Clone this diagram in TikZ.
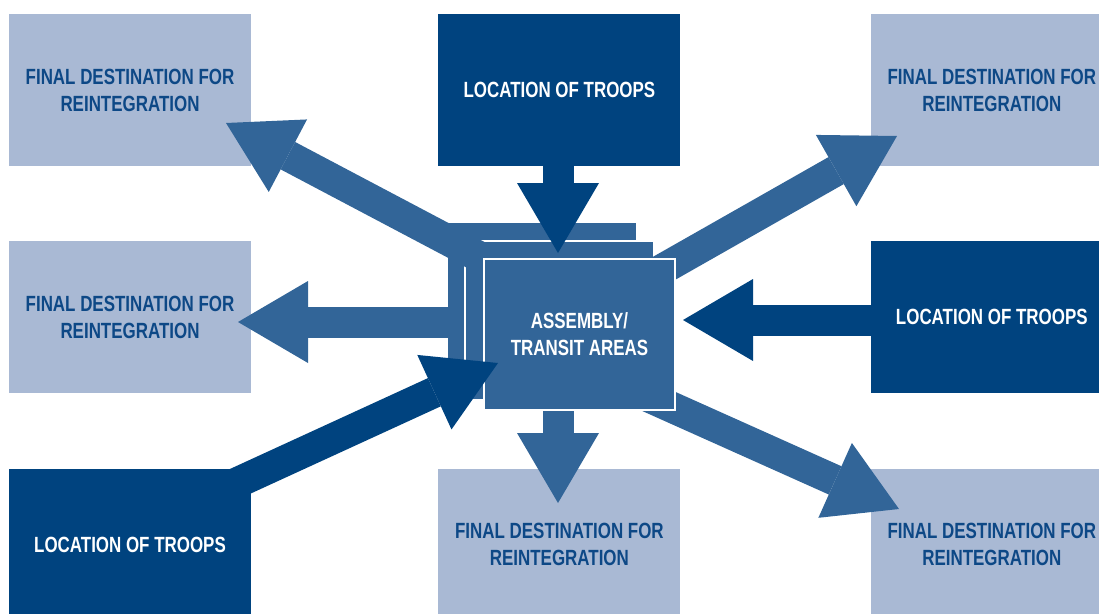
\documentclass[tikz,border=0pt]{standalone}
\usepackage{fontspec}
\setmainfont{Liberation Sans}[FakeStretch=0.77]
\usetikzlibrary{arrows.meta,positioning}
\definecolor{boxlight}{HTML}{A9B9D4}
\definecolor{boxdark}{HTML}{00437F}
\definecolor{arrmid}{HTML}{326598}
\definecolor{txtdark}{HTML}{0D4886}

\begin{document}
\begin{tikzpicture}[x=1pt,y=-1pt,
  dbox/.style={minimum width=242pt,minimum height=152pt,inner sep=0pt,align=center,
               font=\fontsize{22}{27}\selectfont\bfseries},
  fbox/.style={dbox,fill=boxlight,text=txtdark},
  tbox/.style={dbox,fill=boxdark,text=white},
  abox/.style={fill=arrmid,inner sep=0pt,outer sep=0pt,anchor=north west},
  outarr/.style={line width=31pt,draw=arrmid,-{Triangle[length=70pt,width=82pt,line width=0pt]}},
  inarr/.style={outarr,draw=boxdark}
]
  \useasboundingbox (0,0) rectangle (1099,613);
  \clip (0,0) rectangle (1099,613);

  % outer boxes
  \node[fbox] (tl) at (130,90) {FINAL DESTINATION FOR\\REINTEGRATION};
  \node[tbox,right=187pt of tl] (tc) {LOCATION OF TROOPS};
  \node[fbox,right=190pt of tc] (tr) {FINAL DESTINATION FOR\\REINTEGRATION};
  \node[fbox,below=75pt of tl] (ml) {FINAL DESTINATION FOR\\REINTEGRATION};
  \node[tbox,below=75pt of tr] (mr) {LOCATION OF TROOPS};
  \node[tbox,below=75pt of ml] (bl) {LOCATION OF TROOPS};
  \node[fbox,right=187pt of bl] (bc) {FINAL DESTINATION FOR\\REINTEGRATION};
  \node[fbox,right=190pt of bc] (br) {FINAL DESTINATION FOR\\REINTEGRATION};

  % stacked areas in the middle
  \node[abox,minimum width=188pt,minimum height=169pt] (aaback) at (448,223) {};
  \node[abox,draw=white,line width=1.5pt,minimum width=189pt,minimum height=159pt] (aamid) at (465,241) {};

  \coordinate (tipT)  at (558,253);
  \coordinate (tipR)  at (683,320);
  \coordinate (tipBL) at (498,363);
  \coordinate (tipL)  at (238,322);
  \coordinate (tipTL) at (226,123);
  \coordinate (tipTR) at (897,136);
  \coordinate (tipBR) at (899,509);
  \coordinate (tipB)  at (558,503);
  \coordinate (srcTL) at (510,273);
  \coordinate (srcTR) at (640,282);
  \coordinate (srcBR) at (640,393);
  \coordinate (srcB)  at (558,400);
  \coordinate (srcBL) at (230,486);

  % arrows out to the destinations
  \draw[outarr] (aaback.west |- tipL) -- (tipL);
  \draw[outarr] (srcTL) -- (tipTL);
  \draw[outarr] (srcTR) -- (tipTR);
  \draw[outarr] (srcBR) -- (tipBR);
  \draw[outarr] (srcB) -- (tipB);

  \node[abox,draw=white,line width=1.5pt,minimum width=191pt,minimum height=151pt,
        align=center,text=white,font=\fontsize{22}{27}\selectfont\bfseries] (aa) at (484,259)
    {ASSEMBLY/\\TRANSIT AREAS};

  % arrows in from the troops
  \draw[inarr] (tipT |- tc.south) -- (tipT);
  \draw[inarr] (mr.west |- tipR) -- (tipR);
  \draw[inarr] (srcBL) -- (tipBL);
\end{tikzpicture}
\end{document}
